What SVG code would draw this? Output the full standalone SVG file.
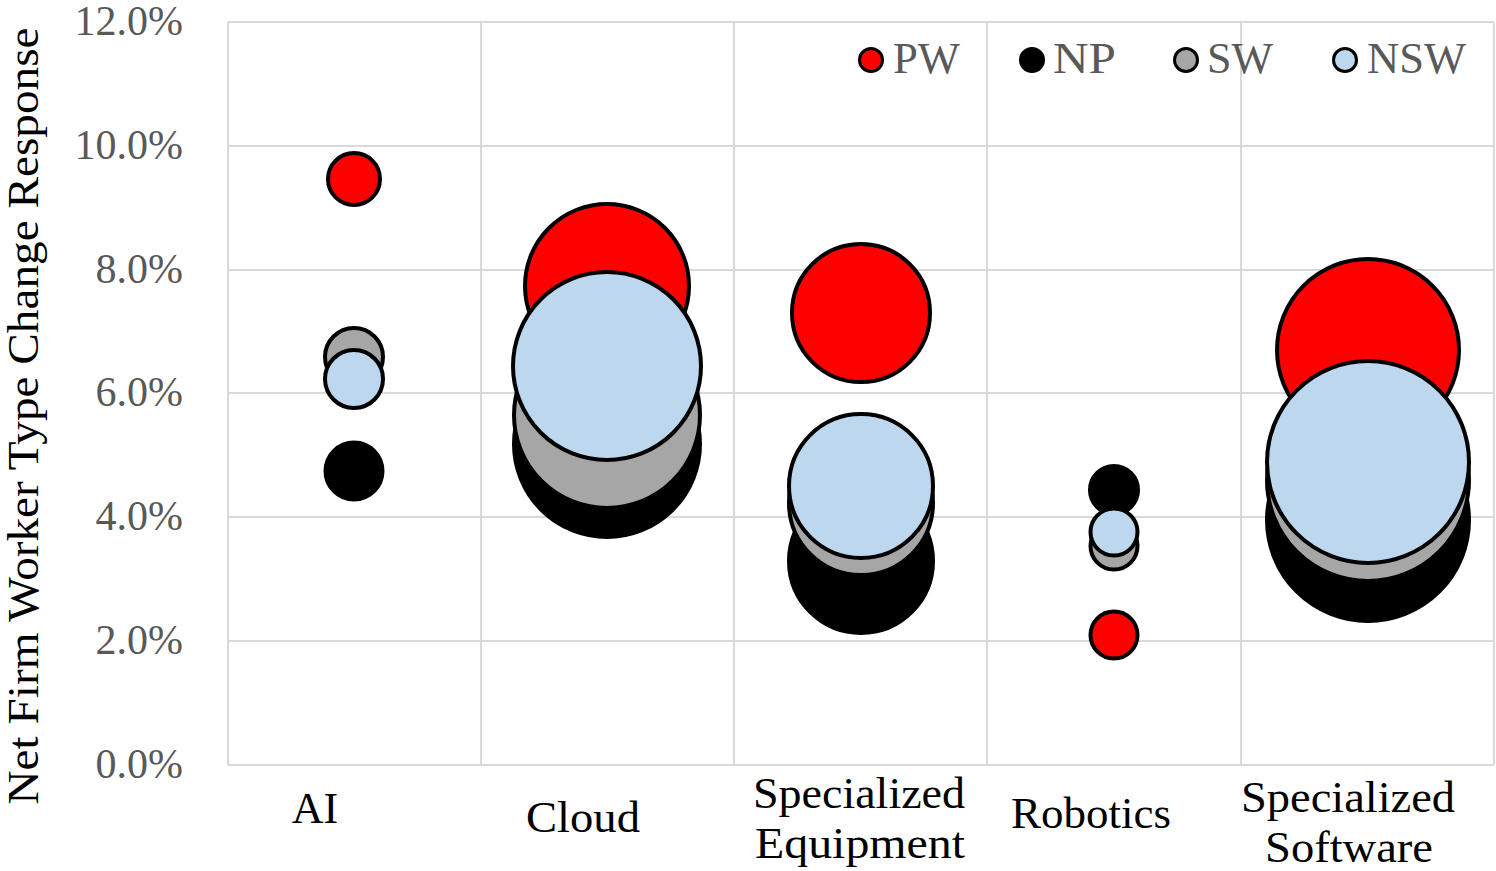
<svg xmlns="http://www.w3.org/2000/svg" width="1496" height="871" viewBox="0 0 1496 871">
  <style>
    .grid { stroke: #d9d9d9; stroke-width: 2; fill: none; }
    .tick { font-family: "Liberation Serif", "Times New Roman", serif; font-size: 42px; fill: #595959; text-anchor: end; }
    .cat { font-family: "Liberation Serif", "Times New Roman", serif; font-size: 44px; fill: #000; text-anchor: middle; }
    .title { font-family: "Liberation Serif", "Times New Roman", serif; font-size: 45px; fill: #000; text-anchor: middle; }
    .leg { font-family: "Liberation Serif", "Times New Roman", serif; font-size: 44px; fill: #595959; }
    .b { stroke: #000; stroke-width: 4; }
    .pw { fill: #ff0000; }
    .np { fill: #000000; }
    .sw { fill: #a6a6a6; }
    .nsw { fill: #bdd7ee; }
  </style>
  <rect width="1496" height="871" fill="#ffffff"/>

  <!-- plot area grid -->
  <g id="grid">
    <line class="grid" x1="228" y1="22" x2="1494" y2="22"/>
    <line class="grid" x1="228" y1="146" x2="1494" y2="146"/>
    <line class="grid" x1="228" y1="270" x2="1494" y2="270"/>
    <line class="grid" x1="228" y1="393" x2="1494" y2="393"/>
    <line class="grid" x1="228" y1="517" x2="1494" y2="517"/>
    <line class="grid" x1="228" y1="641" x2="1494" y2="641"/>
    <line class="grid" x1="228" y1="765" x2="1494" y2="765"/>
    <line class="grid" x1="228" y1="22" x2="228" y2="765"/>
    <line class="grid" x1="481" y1="22" x2="481" y2="765"/>
    <line class="grid" x1="734" y1="22" x2="734" y2="765"/>
    <line class="grid" x1="987" y1="22" x2="987" y2="765"/>
    <line class="grid" x1="1241" y1="22" x2="1241" y2="765"/>
    <line class="grid" x1="1494" y1="22" x2="1494" y2="765"/>
  </g>

  <!-- value axis -->
  <g id="y-axis">
    <text class="tick" x="183" y="35">12.0%</text>
    <text class="tick" x="183" y="159">10.0%</text>
    <text class="tick" x="183" y="283">8.0%</text>
    <text class="tick" x="183" y="406">6.0%</text>
    <text class="tick" x="183" y="530">4.0%</text>
    <text class="tick" x="183" y="654">2.0%</text>
    <text class="tick" x="183" y="778">0.0%</text>
    <text class="title" transform="translate(38,416) rotate(-90)" textLength="777" lengthAdjust="spacingAndGlyphs">Net Firm Worker Type Change Response</text>
  </g>

  <!-- category labels -->
  <g id="x-axis">
    <text class="cat" x="315" y="823">AI</text>
    <text class="cat" x="583" y="832" textLength="114" lengthAdjust="spacingAndGlyphs">Cloud</text>
    <text class="cat" x="859" y="808" textLength="212" lengthAdjust="spacingAndGlyphs">Specialized</text>
    <text class="cat" x="860" y="858" textLength="210" lengthAdjust="spacingAndGlyphs">Equipment</text>
    <text class="cat" x="1091" y="828" textLength="160" lengthAdjust="spacingAndGlyphs">Robotics</text>
    <text class="cat" x="1348" y="812" textLength="214" lengthAdjust="spacingAndGlyphs">Specialized</text>
    <text class="cat" x="1349" y="862" textLength="168" lengthAdjust="spacingAndGlyphs">Software</text>
  </g>

  <!-- bubbles: PW, NP, SW, NSW drawn in series order -->
  <g id="ai">
    <circle id="ai-pw" class="b pw" cx="354" cy="179" r="26"/>
    <circle id="ai-np" class="b np" cx="354" cy="471" r="28.5"/>
    <circle id="ai-sw" class="b sw" cx="354" cy="357" r="29"/>
    <circle id="ai-nsw" class="b nsw" cx="354" cy="379" r="29"/>
  </g>
  <g id="cloud">
    <circle id="cloud-pw" class="b pw" cx="607" cy="286" r="82"/>
    <circle id="cloud-np" class="b np" cx="607" cy="444" r="93"/>
    <circle id="cloud-sw" class="b sw" cx="607" cy="415" r="93"/>
    <circle id="cloud-nsw" class="b nsw" cx="607" cy="366" r="94"/>
  </g>
  <g id="specialized-equipment">
    <circle id="se-pw" class="b pw" cx="861" cy="313" r="69"/>
    <circle id="se-np" class="b np" cx="861" cy="561" r="72"/>
    <circle id="se-sw" class="b sw" cx="861" cy="503" r="72"/>
    <circle id="se-nsw" class="b nsw" cx="861" cy="486" r="72"/>
  </g>
  <g id="robotics">
    <circle id="rb-pw" class="b pw" cx="1114" cy="635" r="23.5"/>
    <circle id="rb-np" class="b np" cx="1114" cy="490" r="24"/>
    <circle id="rb-sw" class="b sw" cx="1114" cy="546" r="23.5"/>
    <circle id="rb-nsw" class="b nsw" cx="1114" cy="532" r="23.5"/>
  </g>
  <g id="specialized-software">
    <circle id="ss-pw" class="b pw" cx="1368" cy="350" r="91"/>
    <circle id="ss-np" class="b np" cx="1368" cy="520" r="101"/>
    <circle id="ss-sw" class="b sw" cx="1368" cy="480" r="101"/>
    <circle id="ss-nsw" class="b nsw" cx="1368" cy="462" r="101"/>
  </g>

  <!-- legend -->
  <g id="legend">
    <circle class="pw" cx="871" cy="60" r="11.5" stroke="#000" stroke-width="3"/>
    <text class="leg" x="893" y="73" textLength="67" lengthAdjust="spacingAndGlyphs">PW</text>
    <circle class="np" cx="1032" cy="60" r="11.5" stroke="#000" stroke-width="3"/>
    <text class="leg" x="1053" y="73" textLength="63" lengthAdjust="spacingAndGlyphs">NP</text>
    <circle class="sw" cx="1186" cy="60" r="11.5" stroke="#000" stroke-width="3"/>
    <text class="leg" x="1207" y="73" textLength="66" lengthAdjust="spacingAndGlyphs">SW</text>
    <circle class="nsw" cx="1345" cy="60" r="11.5" stroke="#000" stroke-width="3"/>
    <text class="leg" x="1367" y="73" textLength="99" lengthAdjust="spacingAndGlyphs">NSW</text>
  </g>
</svg>
